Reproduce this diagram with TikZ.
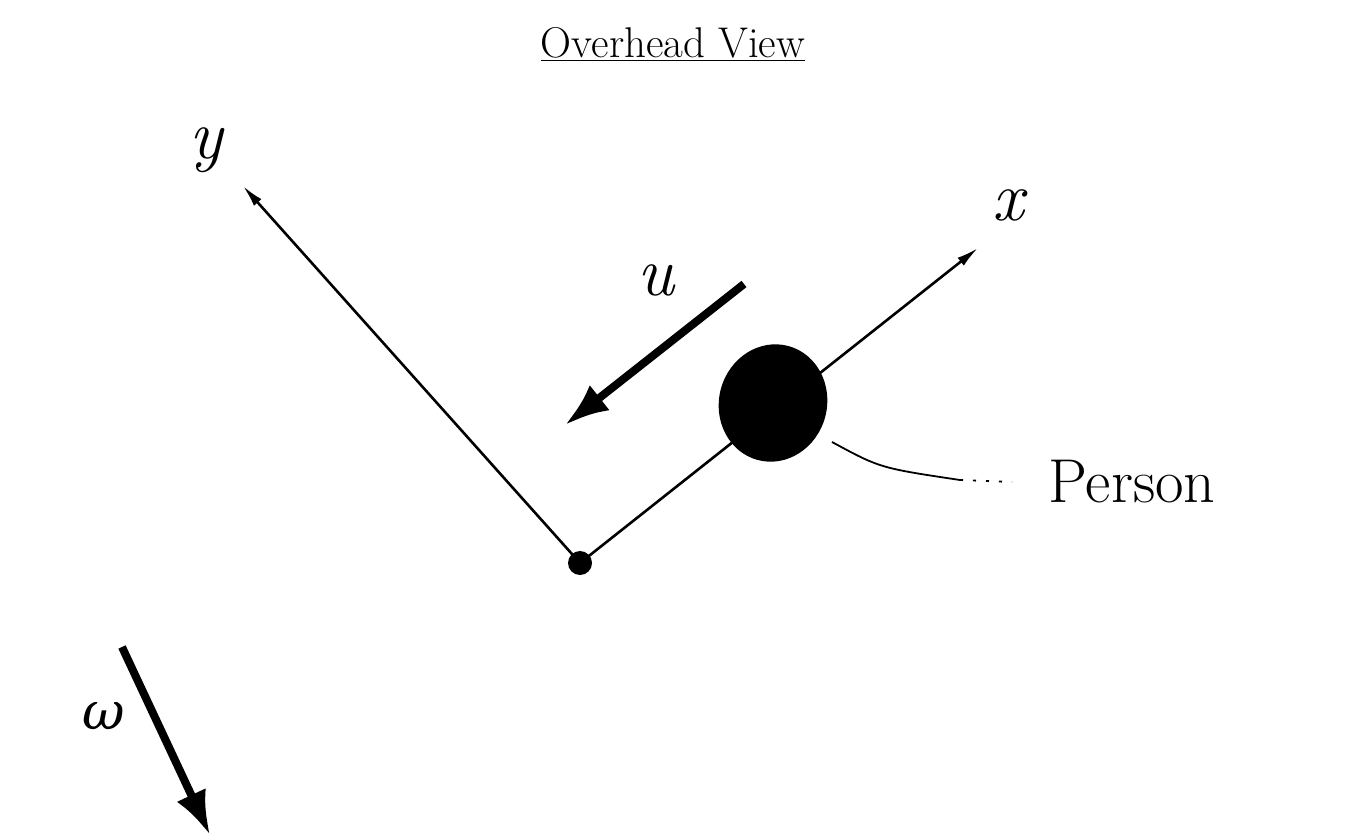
\documentclass[tikz,border=0pt]{standalone}
\usepackage{fontspec}
\newfontfamily\greekfont{DejaVu Serif}
\usetikzlibrary{arrows.meta,calc,shapes.geometric}
\begin{document}
\begin{tikzpicture}[x=1pt,y=-1pt,
  axis/.style={line width=2.6pt,-{Latex[length=22pt,width=10pt]}},
  bigarrow/.style={line width=8pt,-{Latex[length=44pt,width=32pt]}},
  lbl/.style={font=\fontsize{70}{80}\selectfont\itshape},
  leader/.style={line width=1.8pt}]
\useasboundingbox (0,0) rectangle (1360,840);
\node[font=\fontsize{43}{50}\selectfont] (title) at (673,44) {\underline{Overhead View}};
\node[circle,fill=black,minimum size=24pt,inner sep=0pt] (o) at (580,563) {};
\coordinate (yend) at (243,186);
\coordinate (xend) at (978,248);
\draw[axis] (o.center) -- (yend);
\draw[axis] (o.center) -- (xend);
\node[lbl] (ylab) at (206,150) {y};
\node[lbl] (xlab) at (1008,205) {x};
\coordinate (us) at (744,284);
\coordinate (ue) at (565,425);
\draw[bigarrow] (us) -- (ue);
\node[lbl] (ulab) at (656,280) {u};
\node[ellipse,fill=black,minimum width=108pt,minimum height=118pt,inner sep=0pt,rotate=-15] (person) at (773,403) {};
\node[font=\fontsize{62}{72}\selectfont] (plab) at (1132,482) {Person};
\coordinate (ls) at (832,442);
\coordinate (lm) at (960,480);
\coordinate (le) at (1012,482);
\draw[leader] (ls) .. controls (880,468) .. (lm);
\draw[leader,dash pattern=on 3pt off 10pt] (lm) -- (le);
\coordinate (ws) at (122,647);
\coordinate (we) at (210,835);
\draw[bigarrow] (ws) -- (we);
\node[font=\fontsize{52}{60}\selectfont\greekfont\itshape] (wlab) at (104,716) {ω};
\end{tikzpicture}
\end{document}
